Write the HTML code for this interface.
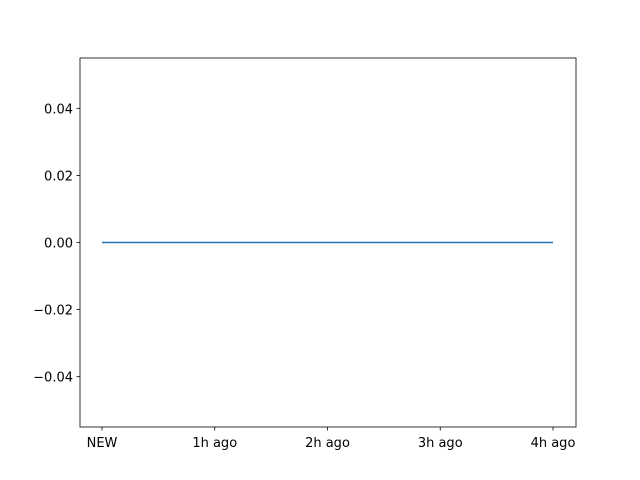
<!DOCTYPE html>
<html><head><meta charset="utf-8"><style>
body{margin:0;background:#fff}
svg{display:block}
text{font-family:"DejaVu Sans","Liberation Sans",sans-serif;font-size:13px;fill:#000}
</style></head><body>
<svg id="chart" width="640" height="480"></svg>
<script>
const categories=["NEW","1h ago","2h ago","3h ago","4h ago"];
const values=[0,0,0,0,0];
const yTicks=[-0.04,-0.02,0.00,0.02,0.04];
const yTickLabels=["\u22120.04","\u22120.02","0.00","0.02","0.04"];
const L=80,R=576,T=58,B=427;
const yMin=-0.055,yMax=0.055;
const xs=i=>102+i*(553-102)/(categories.length-1);
const ys=v=>B-(v-yMin)/(yMax-yMin)*(B-T);
const NS="http://www.w3.org/2000/svg";
const svg=document.getElementById('chart');
function mk(tag,attrs,parent){const e=document.createElementNS(NS,tag);for(const k in attrs)e.setAttribute(k,attrs[k]);(parent||svg).appendChild(e);return e;}
const frame=mk('rect',{x:L,y:T,width:R-L,height:B-T,fill:'none',stroke:'#000','stroke-width':0.8});


categories.forEach((c,i)=>{
  const x=xs(i);
  const t=mk('line',{x1:x,x2:x,y1:B,y2:B+3.5,stroke:'#000','stroke-width':0.8});
  
  
  const l=mk('text',{x:x,y:B+20,'text-anchor':'middle'});l.textContent=c;
  
  
});
yTicks.forEach((v,i)=>{
  const y=ys(v);
  const t=mk('line',{x1:L-3.5,x2:L,y1:y,y2:y,stroke:'#000','stroke-width':0.8});
  
  
  const l=mk('text',{x:L-7,y:y+5,'text-anchor':'end'});l.textContent=yTickLabels[i];
  
  
});
const pts=values.map((v,i)=>xs(i)+','+ys(v)).join(' ');
const line=mk('polyline',{points:pts,fill:'none',stroke:'#1f77b4','stroke-width':1.5});


</script>
</body></html>
